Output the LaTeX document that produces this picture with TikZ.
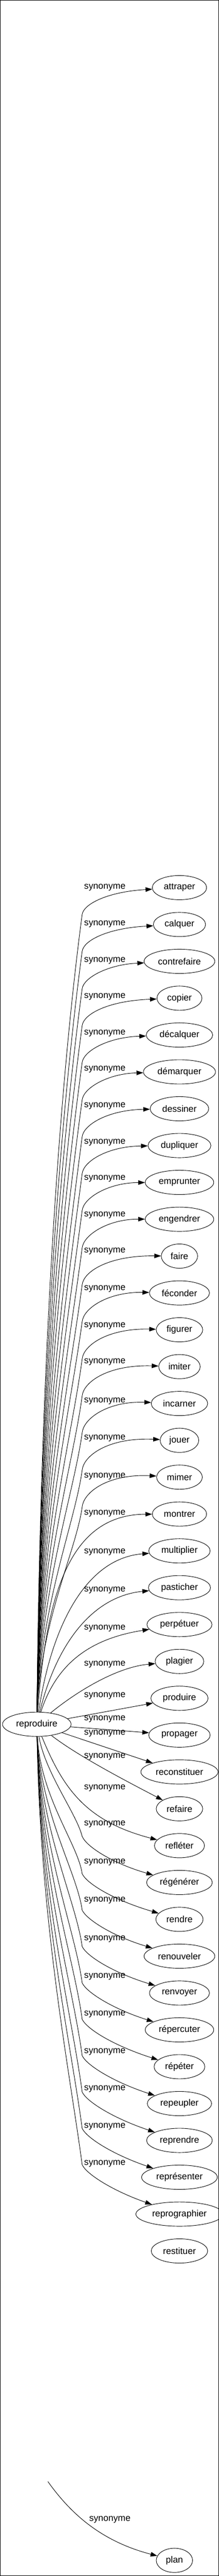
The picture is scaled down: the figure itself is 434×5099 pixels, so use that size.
\documentclass[tikz,border=0pt]{standalone}
\usepackage{fontspec}
\setmainfont{Liberation Sans}
\usepackage{tikz}
\usetikzlibrary{arrows.meta, positioning, shapes.geometric}

\begin{document}
\begin{tikzpicture}[
  x=0.75pt, y=-0.75pt,
  node distance=18pt,
  font=\fontsize{13.5}{16}\selectfont,
  term/.style={ellipse, draw, line width=0.7pt, minimum width=54pt, minimum height=36pt, inner xsep=5.3pt, inner ysep=3pt},
  arrow/.style={line width=0.7pt, -{Triangle[length=10pt, width=6.7pt]}},
  relation/.style={inner sep=0pt}
]

% Frame
\useasboundingbox (0,0) rectangle (434,5099);
\draw[line width=0.75pt] (0.5,0.5) rectangle (433.5,5098.5);

% Source word
\node[term] (reproduire) at (73,3413) {reproduire};

% Synonym column
\node[term] (attraper) at (356,1757) {attraper};
\node[term, below=of attraper] (calquer) {calquer};
\node[term, below=of calquer] (contrefaire) {contrefaire};
\node[term, below=of contrefaire] (copier) {copier};
\node[term, below=of copier] (decalquer) {décalquer};
\node[term, below=of decalquer] (demarquer) {démarquer};
\node[term, below=of demarquer] (dessiner) {dessiner};
\node[term, below=of dessiner] (dupliquer) {dupliquer};
\node[term, below=of dupliquer] (emprunter) {emprunter};
\node[term, below=of emprunter] (engendrer) {engendrer};
\node[term, below=of engendrer] (faire) {faire};
\node[term, below=of faire] (feconder) {féconder};
\node[term, below=of feconder] (figurer) {figurer};
\node[term, below=of figurer] (imiter) {imiter};
\node[term, below=of imiter] (incarner) {incarner};
\node[term, below=of incarner] (jouer) {jouer};
\node[term, below=of jouer] (mimer) {mimer};
\node[term, below=of mimer] (montrer) {montrer};
\node[term, below=of montrer] (multiplier) {multiplier};
\node[term, below=of multiplier] (pasticher) {pasticher};
\node[term, below=of pasticher] (perpetuer) {perpétuer};
\node[term, below=of perpetuer] (plagier) {plagier};
\node[term, below=of plagier] (produire) {produire};
\node[term, below=of produire] (propager) {propager};
\node[term, below=of propager] (reconstituer) {reconstituer};
\node[term, below=of reconstituer] (refaire) {refaire};
\node[term, below=of refaire] (refleter) {refléter};
\node[term, below=of refleter] (regenerer) {régénérer};
\node[term, below=of regenerer] (rendre) {rendre};
\node[term, below=of rendre] (renouveler) {renouveler};
\node[term, below=of renouveler] (renvoyer) {renvoyer};
\node[term, below=of renvoyer] (repercuter) {répercuter};
\node[term, below=of repercuter] (repeter) {répéter};
\node[term, below=of repeter] (repeupler) {repeupler};
\node[term, below=of repeupler] (reprendre) {reprendre};
\node[term, below=of reprendre] (representer) {représenter};
\node[term, below=of representer] (reprographier) {reprographier};
\node[term, below=of reprographier] (restituer) {restituer};

% Bottom word
\node[term] (plan) at (346,5068) {plan};
\coordinate (planstart) at (95,4912);

% Edges going up
\draw[arrow] (reproduire) .. controls (80,2694) and (118,2148) .. (163,1810) .. controls (166,1789) and (215,1765) .. (attraper) node[relation] at (208,1757) {synonyme};
\draw[arrow] (reproduire) .. controls (80,2726) and (120,2205) .. (163,1883) .. controls (166,1861) and (215,1837) .. (calquer) node[relation] at (208,1829) {synonyme};
\draw[arrow] (reproduire) .. controls (80,2759) and (122,2263) .. (163,1957) .. controls (166,1935) and (215,1909) .. (contrefaire) node[relation] at (208,1901) {synonyme};
\draw[arrow] (reproduire) .. controls (80,2791) and (124,2321) .. (163,2030) .. controls (166,2007) and (215,1981) .. (copier) node[relation] at (208,1973) {synonyme};
\draw[arrow] (reproduire) .. controls (80,2823) and (126,2378) .. (163,2103) .. controls (166,2080) and (215,2053) .. (decalquer) node[relation] at (208,2045) {synonyme};
\draw[arrow] (reproduire) .. controls (80,2856) and (128,2436) .. (163,2177) .. controls (166,2153) and (215,2125) .. (demarquer) node[relation] at (208,2117) {synonyme};
\draw[arrow] (reproduire) .. controls (80,2888) and (131,2494) .. (163,2250) .. controls (166,2226) and (215,2197) .. (dessiner) node[relation] at (208,2189) {synonyme};
\draw[arrow] (reproduire) .. controls (80,2920) and (133,2551) .. (163,2323) .. controls (166,2298) and (215,2269) .. (dupliquer) node[relation] at (208,2261) {synonyme};
\draw[arrow] (reproduire) .. controls (80,2952) and (135,2609) .. (163,2396) .. controls (166,2371) and (215,2341) .. (emprunter) node[relation] at (208,2333) {synonyme};
\draw[arrow] (reproduire) .. controls (80,2985) and (137,2667) .. (163,2470) .. controls (166,2444) and (215,2413) .. (engendrer) node[relation] at (208,2405) {synonyme};
\draw[arrow] (reproduire) .. controls (80,3017) and (139,2724) .. (163,2543) .. controls (166,2517) and (215,2485) .. (faire) node[relation] at (208,2477) {synonyme};
\draw[arrow] (reproduire) .. controls (80,3049) and (141,2781) .. (163,2616) .. controls (166,2589) and (215,2557) .. (feconder) node[relation] at (208,2551) {synonyme};
\draw[arrow] (reproduire) .. controls (80,3081) and (143,2840) .. (163,2690) .. controls (166,2662) and (215,2629) .. (figurer) node[relation] at (208,2624) {synonyme};
\draw[arrow] (reproduire) .. controls (80,3114) and (145,2897) .. (163,2763) .. controls (166,2735) and (215,2701) .. (imiter) node[relation] at (208,2696) {synonyme};
\draw[arrow] (reproduire) .. controls (80,3146) and (147,2954) .. (163,2836) .. controls (166,2807) and (215,2773) .. (incarner) node[relation] at (208,2773) {synonyme};
\draw[arrow] (reproduire) .. controls (80,3178) and (149,3013) .. (163,2910) .. controls (166,2881) and (215,2845) .. (jouer) node[relation] at (208,2847) {synonyme};
\draw[arrow] (reproduire) .. controls (80,3210) and (151,3070) .. (163,2983) .. controls (166,2953) and (215,2917) .. (mimer) node[relation] at (208,2922) {synonyme};
\draw[arrow] (reproduire) .. controls (92,3150) and (140,2998) .. (montrer) node[relation] at (208,2996) {synonyme};
\draw[arrow] (reproduire) .. controls (100,3230) and (165,3085) .. (multiplier) node[relation] at (208,3072) {synonyme};
\draw[arrow] (reproduire) .. controls (110,3260) and (180,3160) .. (pasticher) node[relation] at (208,3148) {synonyme};
\draw[arrow] (reproduire) .. controls (110,3300) and (170,3245) .. (perpetuer) node[relation] at (208,3223) {synonyme};
\draw[arrow] (reproduire) .. controls (150,3350) and (230,3300) .. (plagier) node[relation] at (208,3294) {synonyme};

% Straight edges
\draw[arrow] (reproduire) -- (produire) node[relation] at (208,3357) {synonyme};
\draw[arrow] (reproduire) -- (propager) node[relation] at (208,3403) {synonyme};
\draw[arrow] (reproduire) -- (reconstituer) node[relation] at (208,3431) {synonyme};

% Edges going down
\draw[arrow] (reproduire) .. controls (150,3472) and (230,3515) .. (refaire) node[relation] at (208,3477) {synonyme};
\draw[arrow] (reproduire) .. controls (125,3540) and (170,3605) .. (refleter) node[relation] at (208,3539) {synonyme};
\draw[arrow] (reproduire) .. controls (90,3510) and (152,3590) .. (163,3635) .. controls (172,3656) and (225,3689) .. (regenerer) node[relation] at (208,3611) {synonyme};
\draw[arrow] (reproduire) .. controls (80,3557) and (155,3651) .. (163,3709) .. controls (172,3728) and (225,3761) .. (rendre) node[relation] at (208,3686) {synonyme};
\draw[arrow] (reproduire) .. controls (80,3588) and (153,3707) .. (163,3781) .. controls (172,3800) and (225,3833) .. (renouveler) node[relation] at (208,3762) {synonyme};
\draw[arrow] (reproduire) .. controls (80,3620) and (151,3764) .. (163,3853) .. controls (172,3872) and (225,3905) .. (renvoyer) node[relation] at (208,3838) {synonyme};
\draw[arrow] (reproduire) .. controls (80,3652) and (149,3821) .. (163,3925) .. controls (172,3944) and (225,3977) .. (repercuter) node[relation] at (208,3913) {synonyme};
\draw[arrow] (reproduire) .. controls (80,3683) and (147,3877) .. (163,3997) .. controls (172,4016) and (225,4049) .. (repeter) node[relation] at (208,3987) {synonyme};
\draw[arrow] (reproduire) .. controls (80,3715) and (145,3934) .. (163,4069) .. controls (172,4088) and (225,4121) .. (repeupler) node[relation] at (208,4061) {synonyme};
\draw[arrow] (reproduire) .. controls (80,3747) and (143,3990) .. (163,4141) .. controls (172,4160) and (225,4193) .. (reprendre) node[relation] at (208,4135) {synonyme};
\draw[arrow] (reproduire) .. controls (80,3778) and (141,4047) .. (163,4213) .. controls (172,4232) and (225,4265) .. (representer) node[relation] at (208,4209) {synonyme};
\draw[arrow] (reproduire) .. controls (80,3810) and (139,4104) .. (163,4285) .. controls (172,4304) and (225,4337) .. (reprographier) node[relation] at (208,4283) {synonyme};

% Lone edge to plan
\draw[arrow] (planstart) .. controls (140,4975) and (200,5030) .. (plan) node[relation] at (218,4987) {synonyme};

\end{tikzpicture}
\end{document}
